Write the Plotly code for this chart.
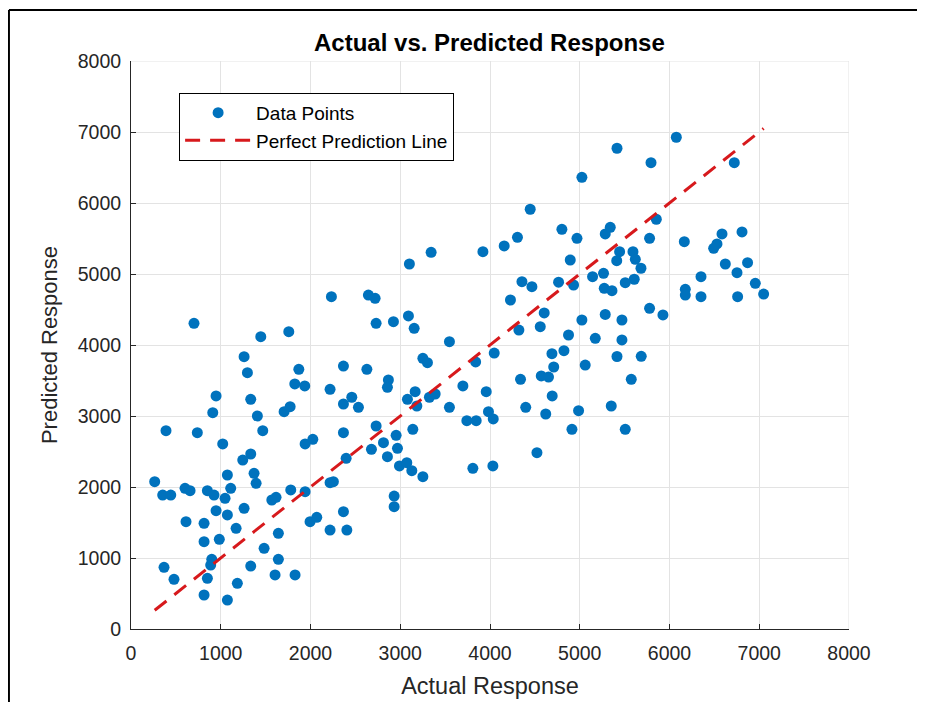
import plotly.graph_objects as go

# Actual response values (x)
actual = [
    702, 1446, 1758, 2731, 2924, 3091, 3155, 3548, 1260, 1297,
    1870, 2367, 2628, 3252, 3303, 1825, 1936, 2218, 2868, 2857,
    3698, 948, 1334, 911, 1408, 1706, 1773, 2367, 2460, 2534,
    3080, 3166, 3185, 3325, 3389, 3548, 3742, 390, 739, 1468,
    1022, 1940, 2026, 2367, 2731, 2954, 3140, 2813, 2969, 2679,
    2857, 2397, 1245, 1334, 1074, 1371, 1394, 2991, 3073, 3129,
    3252, 3809, 264, 353, 443, 602, 658, 851, 925, 1048,
    1111, 1780, 1940, 2218, 2255, 1569, 1616, 948, 1074, 1260,
    2367, 2932, 2932, 613, 814, 1171, 1995, 2070, 2218, 2405,
    814, 984, 1642, 1483, 900, 888, 1642, 1334, 368, 479,
    851, 1185, 1605, 1828, 814, 1074,
    2233, 2645, 2720, 3102, 3344,
    6076, 5415, 5794, 6722, 5024, 4448, 4801, 4969, 5284, 5340,
    5853, 5778, 6165, 6585, 6808, 6492, 6529, 4306, 4158, 3921,
    4894, 5444, 5412, 5593, 5619, 5682, 5607, 5507, 6622, 6752,
    6870, 6956, 7049, 6351, 6176, 6176, 6351, 6759, 5143, 5265,
    4931, 4764, 5273, 5359, 4356, 4467, 4228, 4604, 4560, 4322,
    5024, 5284, 5470, 5778, 5927, 4875, 5173, 5470, 4047, 3840,
    4690, 4824, 5415, 5685, 4710, 5061,
    4340, 4571, 4652, 5574, 3958, 4693, 4398, 4621, 4987, 5351,
    3983, 4036, 3846, 4913, 5507, 4523, 4032,
]

# Predicted response values (y)
predicted = [
    4306, 4117, 4188, 4306, 4328, 4409, 4235, 4047, 3835, 3610,
    3658, 3704, 3658, 3813, 3751, 3451, 3423, 3376, 3507, 3404,
    3423, 3282, 3235, 3047, 3000, 3061, 3131, 3169, 3264, 3123,
    3235, 3342, 3141, 3264, 3310, 3123, 2934, 2793, 2765, 2793,
    2606, 2606, 2672, 2765, 2859, 2728, 2813, 2624, 2545, 2531,
    2427, 2404, 2380, 2465, 2169, 2193, 2052, 2296, 2342, 2230,
    2145, 2263, 2075, 1887, 1887, 1982, 1948, 1948, 1887, 1841,
    1982, 1958, 1934, 2061, 2075, 1817, 1855, 1666, 1606, 1700,
    1652, 1873, 1723, 1511, 1489, 1418, 1511, 1573, 1394, 1394,
    1230, 1263, 1348, 1137, 982, 901, 982, 887, 869, 700,
    714, 644, 761, 761, 479, 408,
    4680, 4704, 4658, 5141, 5306,
    6926, 6771, 6568, 6568, 6362, 5912, 5630, 5503, 5564, 5658,
    5771, 5503, 5455, 5564, 5592, 5362, 5423, 5517, 5395, 5314,
    5197, 5314, 5188, 5314, 5207, 5081, 4926, 4878, 5141, 5019,
    5159, 4869, 4718, 4962, 4785, 4704, 4680, 4680, 4962, 5010,
    4845, 4885, 4799, 4765, 4892, 4821, 4634, 4451, 4258, 4211,
    4352, 4430, 4352, 4517, 4423, 4141, 4094, 4071, 3887, 3761,
    3878, 3920, 3838, 3841, 3690, 3718,
    3517, 3564, 3549, 3517, 3342, 3282, 3123, 3028, 3075, 3141,
    3061, 2958, 2934, 2813, 2813, 2483, 2296,
]

tick_vals = [0, 1000, 2000, 3000, 4000, 5000, 6000, 7000, 8000]
axis_range = [0, 8000]
line_ends = [min(actual), max(actual)]

FONT = "Liberation Sans, Arial, sans-serif"
TXT = "#262626"
GRID = "#e3e3e3"

fig = go.Figure()
fig.add_trace(go.Scatter(
    x=actual, y=predicted, mode="markers", name="Data Points",
    marker=dict(color="#0072BD", size=11, line=dict(width=0)),
))
fig.add_trace(go.Scatter(
    x=line_ends, y=line_ends, mode="lines", name="Perfect Prediction Line",
    line=dict(color="#D7191C", width=3, dash="15px,10px"),
))

axis_common = dict(
    range=axis_range, tickvals=tick_vals, showgrid=True, gridcolor=GRID,
    gridwidth=1, zeroline=False, showline=True, linecolor=TXT, linewidth=1,
    ticks="inside", ticklen=5, tickcolor=TXT, mirror=False, automargin=False,
    tickfont=dict(family=FONT, size=19.5, color=TXT),
)

fig.update_layout(
    width=917, height=694,
    margin=dict(l=123, r=76, t=53, b=73),
    paper_bgcolor="white", plot_bgcolor="white",
    title=dict(text="<b>Actual vs. Predicted Response</b>", x=0.525, xanchor="center",
               y=0.95, yanchor="middle",
               font=dict(family=FONT, size=24, color="black")),
    xaxis=dict(axis_common, ticklabelstandoff=7,
               title=dict(text="Actual Response", standoff=14,
                          font=dict(family=FONT, size=23.5, color=TXT))),
    yaxis=dict(axis_common, ticklabelstandoff=5,
               title=dict(text="Predicted Response", standoff=14,
                          font=dict(family=FONT, size=22, color=TXT))),
    legend=dict(x=0.067, y=0.944, xanchor="left", yanchor="top",
                bgcolor="white", bordercolor="black", borderwidth=1,
                font=dict(family=FONT, size=19, color="black"),
                itemwidth=66, tracegroupgap=0),
    showlegend=True,
)

# light grid lines at the top and right edges of the axes
fig.add_shape(type="line", xref="x", yref="y", x0=axis_range[0], x1=axis_range[1],
              y0=axis_range[1], y1=axis_range[1], line=dict(color=GRID, width=1), layer="below")
fig.add_shape(type="line", xref="x", yref="y", x0=axis_range[1], x1=axis_range[1],
              y0=axis_range[0], y1=axis_range[1], line=dict(color=GRID, width=1), layer="below")

# figure frame (left, top, right edges of the screenshot)
for x0, y0, x1, y1 in [(-0.170, -0.2, -0.170, 1.090), (-0.170, 1.090, 1.098, 1.090),
                       (1.098, 1.090, 1.098, -0.2)]:
    fig.add_shape(type="line", xref="paper", yref="paper", x0=x0, y0=y0, x1=x1, y1=y1,
                  line=dict(color="black", width=2), layer="above")

fig.write_html("out.html")
